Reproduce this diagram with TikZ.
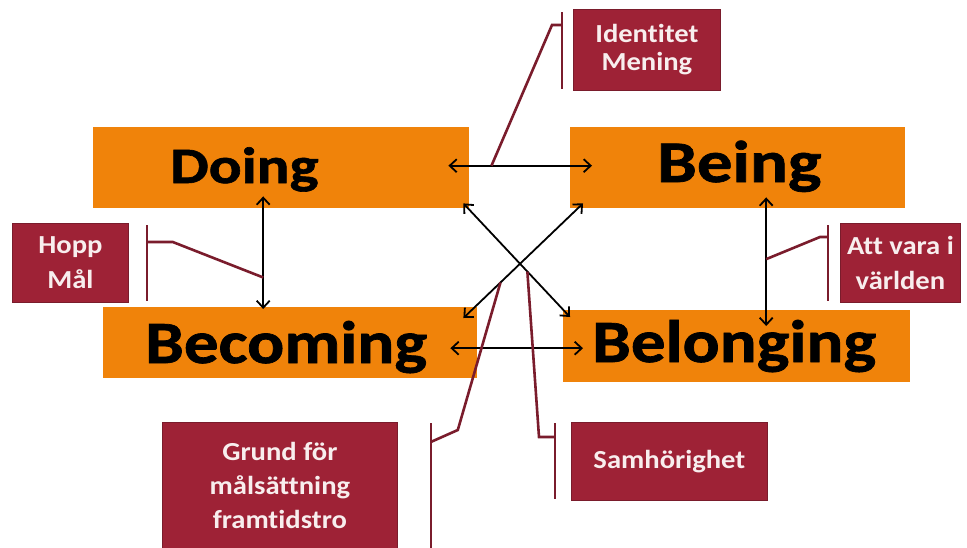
\documentclass[tikz,border=0pt]{standalone}
\usepackage{fontspec}
\setmainfont{Carlito}
\newfontfamily\bigf[FakeStretch=1.2,FakeBold=1.2,Ligatures=NoCommon]{Carlito}
\newfontfamily\bigfb[FakeStretch=1.15,FakeBold=1.2,Ligatures=NoCommon]{Carlito}
\newfontfamily\smallf[FakeStretch=1.1,Ligatures=NoCommon]{Carlito}
\usetikzlibrary{arrows.meta,calc}
\definecolor{orng}{RGB}{240,131,10}
\definecolor{dred}{RGB}{158,34,54}
\definecolor{lred}{RGB}{122,28,44}
\definecolor{wtxt}{RGB}{248,238,238}
\begin{document}
\begin{tikzpicture}[x=1pt,y=-1pt,
  obox/.style={fill=orng, draw=none, inner sep=0pt, anchor=north west},
  otext/.style={inner sep=0pt, anchor=base west, text=black},
  rbox/.style={fill=dred, draw=lred, line width=0.8pt, text=wtxt, align=center,
    inner sep=0pt, anchor=north west, font=\smallf\bfseries\fontsize{26}{28}\selectfont},
  arr/.style={line width=1.8pt, draw=black, {Straight Barb[length=7pt,width=13pt]}-{Straight Barb[length=7pt,width=13pt]}},
  call/.style={line width=2.6pt, draw=lred, line join=miter}]
\useasboundingbox (0,0) rectangle (967,547);
\fill[white] (0,0) rectangle (967,547);

% orange boxes
\node[obox, minimum width=376pt, minimum height=81pt] (doing) at (93,127) {};
\node[obox, minimum width=335pt, minimum height=81pt] (being) at (570,127) {};
\node[obox, minimum width=374pt, minimum height=71pt] (becoming) at (103,307) {};
\node[obox, minimum width=347pt, minimum height=72pt] (belonging) at (563,310) {};

\node[otext, font=\bigf\bfseries\fontsize{51}{51}\selectfont] (doingt) at (170,183) {Doing};
\node[otext, font=\bigf\bfseries\fontsize{59}{59}\selectfont] (beingt) at (657,182) {Being};
\node[otext, font=\bigfb\bfseries\fontsize{60}{60}\selectfont] (becomingt) at (145,363) {Becoming};
\node[otext, font=\bigfb\bfseries\fontsize{60}{60}\selectfont] (belongingt) at (592,362) {Belonging};

% red boxes
\node[rbox, minimum width=147pt, minimum height=81pt] (ident) at (573,9) {Identitet\\Mening};
\node[rbox, minimum width=116pt, minimum height=79pt, font=\smallf\bfseries\fontsize{26}{35}\selectfont] (hopp) at (12,223) {Hopp\\Mål};
\node[rbox, minimum width=120pt, minimum height=79pt, font=\smallf\bfseries\fontsize{26}{35}\selectfont] (att) at (840,223) {Att vara i\\världen};
\node[rbox, minimum width=235pt, minimum height=126pt, font=\smallf\bfseries\fontsize{26}{34}\selectfont] (grund) at (162,422) {Grund för\\målsättning\\framtidstro};
\node[rbox, minimum width=196pt, minimum height=78pt] (samh) at (571,422) {Samhörighet};

% arrows
\draw[arr] ($(doing.east)+(-21,-2)$) -- coordinate[pos=0.3] (m1) ($(being.west)+(22,-2)$);
\draw[arr] ($(doing.south)+(-18,-12)$) -- coordinate[pos=0.72] (m2) ($(becoming.north)+(-27,2)$);
\draw[arr] ($(being.south)+(28.5,-11)$) -- coordinate[pos=0.48] (m3) ($(belonging.north)+(29.5,16)$);
\draw[arr] ($(becoming.east)+(-27,5.5)$) -- ($(belonging.west)+(20,2)$);
\draw[arr] ($(doing.south east)+(-6,-5)$) -- coordinate[pos=0.6] (m5) ($(belonging.north west)+(7,7)$);
\draw[arr] ($(being.south west)+(13,-5)$) -- coordinate[pos=0.69] (m4) ($(becoming.north east)+(-14,11)$);

% callouts
\draw[call] ($(ident.north west)+(-11,3)$) -- ($(ident.south west)+(-11,-2)$);
\draw[call] ($(ident.north west)+(-11,16)$) -- ++(-10,0) -- (m1);
\draw[call] ($(hopp.north east)+(18,2)$) -- ($(hopp.south east)+(18,-2)$);
\draw[call] ($(hopp.north east)+(18,19)$) -- ++(26,0) -- (m2);
\draw[call] ($(att.north west)+(-12,2)$) -- ($(att.south west)+(-12,-2)$);
\draw[call] ($(att.north west)+(-12,14)$) -- ++(-8,0) -- (m3);
\draw[call] ($(grund.north east)+(33,1)$) -- ($(grund.south east)+(33,0)$);
\draw[call] ($(grund.north east)+(33,20)$) -- ++(27,-12) -- (m4);
\draw[call] ($(samh.north west)+(-16,1)$) -- ($(samh.south west)+(-16,-2)$);
\draw[call] ($(samh.north west)+(-16,15)$) -- ++(-16,0) -- (m5);
\end{tikzpicture}
\end{document}
